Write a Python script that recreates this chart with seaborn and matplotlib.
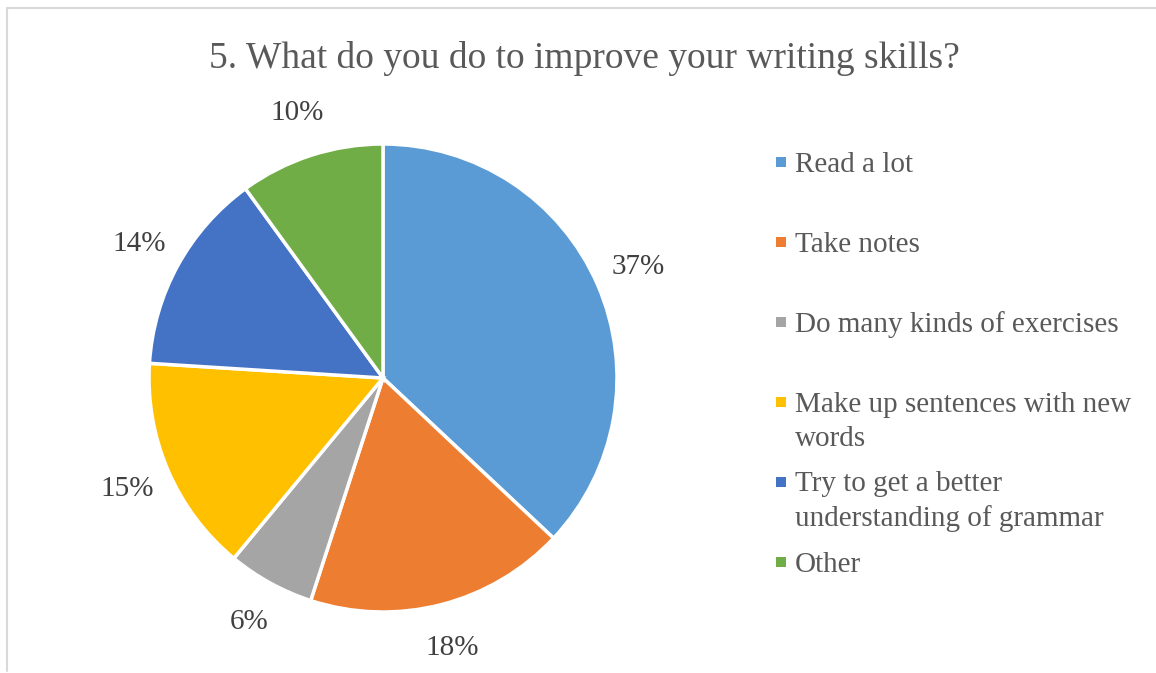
import matplotlib
matplotlib.use('Agg')
import matplotlib.pyplot as plt
import seaborn as sns
from matplotlib.patches import Rectangle
from matplotlib.lines import Line2D

# survey answers, share of respondents (%)
answers = ['Read a lot', 'Take notes', 'Do many kinds of exercises',
           'Make up sentences with new\nwords',
           'Try to get a better\nunderstanding of grammar', 'Other']
shares = [37, 18, 6, 15, 14, 10]
colors = ['#5B9BD5', '#ED7D31', '#A5A5A5', '#FFC000', '#4472C4', '#70AD47']
title = '5. What do you do to improve your writing skills?'

sns.set_theme(style='white')
plt.rcParams['font.family'] = ['Liberation Serif', 'DejaVu Serif']

W, H = 1156, 673
fig = plt.figure(figsize=(W / 100, H / 100), dpi=100)

# pie axes placed in pixels: center (383, 378), radius 234
cx, cy, r = 383, 378, 234
ax = fig.add_axes([(cx - r) / W, (H - cy - r) / H, 2 * r / W, 2 * r / H])
wedges, _, pcts = ax.pie(shares, colors=colors, startangle=90, counterclock=False,
                         autopct='%.0f%%', pctdistance=1.19, radius=1,
                         wedgeprops=dict(edgecolor='white', linewidth=2.5))
for t in pcts:
    t.set_fontsize(21)
    t.set_color('#404040')
ax.set_xlim(-1, 1)
ax.set_ylim(-1, 1)
ax.set_aspect('equal')
ax.axis('off')

fig.text(584 / W, 1 - 68 / H, title, ha='center', va='baseline',
         fontsize=27, color='#595959')

# legend drawn by hand so rows keep even spacing like the original
line_h = 34
for i, (lab, col) in enumerate(zip(answers, colors)):
    ybase = 172 + 80 * i
    nlines = lab.count('\n') + 1
    fig.add_artist(Rectangle((776 / W, 1 - (ybase - 5) / H), 10 / W, 10 / H,
                             transform=fig.transFigure, color=col, lw=0))
    # multi-line text aligns on its last baseline
    fig.text(795 / W, 1 - (ybase + (nlines - 1) * line_h) / H, lab,
             ha='left', va='baseline', fontsize=21, color='#595959',
             linespacing=1.4)

# chart frame (only top and left edges visible)
fig.add_artist(Line2D([7 / W, 1], [1 - 8 / H, 1 - 8 / H], transform=fig.transFigure,
                      color='#D9D9D9', lw=1.5))
fig.add_artist(Line2D([7 / W, 7 / W], [1 - 8 / H, 1 - 671 / H], transform=fig.transFigure,
                      color='#D9D9D9', lw=1.5))

fig.savefig('out.png', dpi=100, facecolor='white')
